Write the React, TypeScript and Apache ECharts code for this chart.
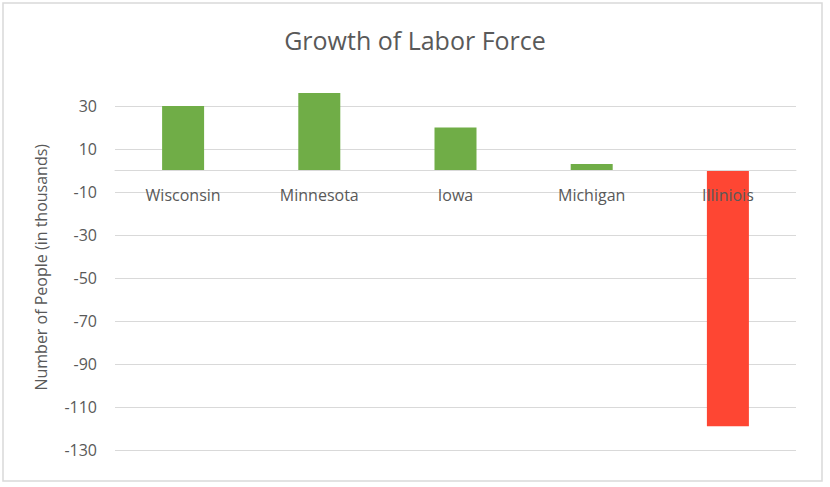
import React, { useEffect, useRef } from "react";
import * as echarts from "echarts";

const categories = ["Wisconsin", "Minnesota", "Iowa", "Michigan", "Illiniois"];
const values = [30, 36, 20, 3, -119];
const axisMin = -130;
const axisMax = 40;
const tickStep = 20;

const FONT = "Open Sans";
const TEXT = "#595959";
const GRID = "#d9d9d9";

export default function App() {
  const ref = useRef<HTMLDivElement>(null);
  useEffect(() => {
    if (!ref.current) return;
    const chart = echarts.init(ref.current, null, { renderer: "svg" });
    const span = axisMax - axisMin;
    chart.setOption({
      animation: false,
      backgroundColor: "#ffffff",
      textStyle: { fontFamily: FONT },
      title: {
        text: "Growth of Labor Force",
        left: "center",
        top: 22,
        textStyle: { fontFamily: FONT, fontSize: 25, fontWeight: "normal", color: TEXT },
      },
      graphic: [
        {
          type: "rect",
          shape: { x: 3, y: 3, width: 819, height: 478 },
          style: { fill: "none", stroke: GRID, lineWidth: 1.5 },
          silent: true,
        },
      ],
      grid: { left: 115, right: 34, top: 84.5, bottom: 37, containLabel: false },
      xAxis: {
        type: "category",
        data: categories,
        z: 10,
        axisLine: { show: true, onZero: true, onZeroAxisIndex: 0, lineStyle: { color: GRID, width: 1 } },
        axisTick: { show: false },
        axisLabel: { color: TEXT, fontSize: 16, fontFamily: FONT, margin: -263 },
      },
      yAxis: [
        {
          type: "value",
          min: axisMin,
          max: axisMax,
          axisLabel: { show: false },
          splitLine: { show: false },
          axisLine: { show: false },
          axisTick: { show: false },
          name: "Number of People (in thousands)",
          nameLocation: "middle",
          nameGap: 66,
          nameRotate: 90,
          nameTextStyle: { color: TEXT, fontSize: 16, fontFamily: FONT },
        },
        {
          type: "value",
          position: "left",
          min: 0,
          max: span,
          interval: tickStep,
          axisLine: { show: false },
          axisTick: { show: false },
          splitLine: { show: true, showMaxLine: false, lineStyle: { color: GRID, width: 1 } },
          axisLabel: {
            color: TEXT,
            fontSize: 16,
            fontFamily: FONT,
            margin: 18,
            showMaxLabel: false,
            formatter: (v: number) => (v >= span ? "" : String(v + axisMin)),
          },
        },
      ],
      series: [
        {
          type: "bar",
          yAxisIndex: 0,
          barWidth: 42,
          z: 2,
          data: values.map((v) => ({
            value: v,
            itemStyle: { color: v < 0 ? "#fe4633" : "#70ad47" },
          })),
        },
      ],
    });
    return () => chart.dispose();
  }, []);
  return (
    <div
      ref={ref}
      style={{ position: "fixed", left: 0, top: 0, width: 830, height: 487 }}
    />
  );
}
